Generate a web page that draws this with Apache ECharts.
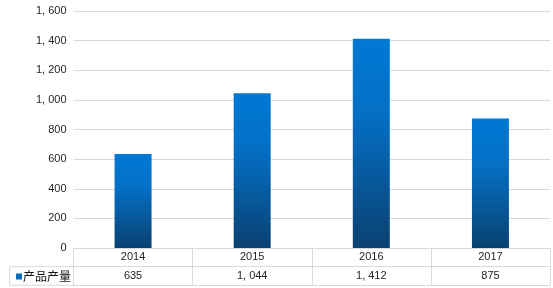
<!DOCTYPE html>
<html>
<head>
<meta charset="utf-8">
<script src="https://cdn.jsdelivr.net/npm/echarts@6/dist/echarts.min.js"></script>
<style>html,body{margin:0;padding:0;background:#fff}#c{width:553px;height:288px}</style>
</head>
<body>
<div id="c"></div>
<script>
var categories = ['2014', '2015', '2016', '2017'];
var seriesName = '产品产量';
var values = [635, 1044, 1412, 875];
var yTicks = [0, 200, 400, 600, 800, 1000, 1200, 1400, 1600];

function fmt(v) {
  var s = String(Math.round(v));
  var out = '';
  while (s.length > 3) {
    out = ', ' + s.slice(-3) + out;
    s = s.slice(0, -3);
  }
  return s + out;
}

var gridColor = '#d9d9d9';
var textColor = '#1f1f1f';
var numFont = 'Liberation Sans, Arial, sans-serif';

var chart = echarts.init(document.getElementById('c'), null, {renderer: 'canvas'});
chart.setOption({
  animation: false,
  backgroundColor: '#fff',
  grid: {left: 73.5, right: 3, top: 11, bottom: 40, containLabel: false},
  legend: {
    data: [seriesName],
    left: 6,
    top: 265.5,
    itemWidth: 0,
    itemHeight: 0,
    icon: 'rect',
    selectedMode: false,
    formatter: function (name) { return '{s|}{g|}' + name; },
    textStyle: {
      fontFamily: 'Noto Sans CJK SC',
      fontSize: 12,
      color: '#111',
      rich: {
        s: {width: 6, height: 6, backgroundColor: '#0b6cbc'},
        g: {width: 1}
      }
    }
  },
  xAxis: [
    {
      type: 'category',
      data: categories,
      position: 'bottom',
      axisLine: {show: true, lineStyle: {color: gridColor, width: 1}},
      axisTick: {show: true, interval: 0, length: 37.3, lineStyle: {color: gridColor}},
      axisLabel: {interval: 0, margin: 3.5, fontSize: 11, color: textColor, fontFamily: numFont},
      splitLine: {show: false}
    },
    {
      type: 'category',
      data: categories,
      position: 'bottom',
      offset: 18.7,
      axisLine: {show: true, lineStyle: {color: gridColor, width: 1}},
      axisTick: {show: false},
      axisLabel: {
        interval: 0, margin: 3.5, fontSize: 11, color: textColor, fontFamily: numFont,
        formatter: function (v, i) { return fmt(values[i]); }
      }
    },
    {
      type: 'category',
      data: categories,
      position: 'bottom',
      offset: 37.3,
      axisLine: {show: true, lineStyle: {color: gridColor, width: 1}},
      axisTick: {show: false},
      axisLabel: {show: false}
    }
  ],
  yAxis: {
    type: 'value',
    min: yTicks[0],
    max: yTicks[yTicks.length - 1],
    interval: 200,
    axisLine: {show: false},
    axisTick: {show: false},
    axisLabel: {margin: 7, fontSize: 11, color: textColor, fontFamily: numFont, formatter: function (v) { return fmt(v); }},
    splitLine: {show: true, lineStyle: {color: gridColor, width: 1}}
  },
  graphic: [
    {
      type: 'polyline',
      shape: {points: [[73.5, 266.7], [9.5, 266.7], [9.5, 285.3], [73.5, 285.3]]},
      style: {stroke: gridColor, fill: null, lineWidth: 1},
      silent: true
    }
  ],
  series: [
    {
      name: seriesName,
      type: 'bar',
      xAxisIndex: 0,
      barWidth: 37,
      data: values,
      itemStyle: {
        color: new echarts.graphic.LinearGradient(0, 0, 0, 1, [
          {offset: 0, color: '#0078d4'},
          {offset: 0.35, color: '#0470c6'},
          {offset: 1, color: '#0a4172'}
        ])
      }
    }
  ]
});
</script>
</body>
</html>
